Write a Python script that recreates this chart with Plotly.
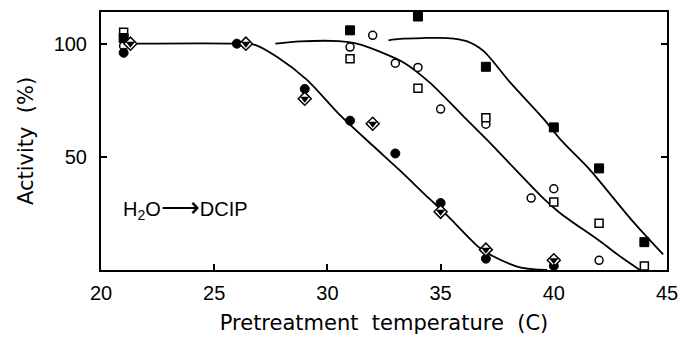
import plotly.graph_objects as go

# ---- data ----
fc_x = [21, 26, 29, 31, 33, 35, 37, 40]            # filled circles
fc_y = [96, 100, 80, 66, 51.5, 29.6, 5, 1.8]
dm_x = [21.3, 26.4, 29, 32, 35, 37, 40]             # half-filled diamonds
dm_y = [100, 100, 75.7, 64.6, 25.7, 9, 4.3]
oc_x = [21, 31, 32, 33, 34, 35, 37, 39, 40, 42]     # open circles
oc_y = [99, 98.5, 103.7, 91.4, 89.5, 71.1, 64.4, 31.8, 35.9, 4.3]
os_x = [21, 31, 34, 37, 40, 42, 44]                 # open squares
os_y = [105, 93.3, 80.3, 67.3, 30.1, 20.7, 1.8]
fs_x = [21, 31, 34, 37, 40, 42, 44]                 # filled squares
fs_y = [102.5, 105.9, 112, 89.8, 63, 44.9, 12.3]

# fitted curves
c1_x = [21.4, 26.0, 26.8, 27.8, 29.1, 30.5, 32.0, 33.2, 34.5, 35.3, 36.7, 37.3, 38.5, 39.7]
c1_y = [100, 100, 99.5, 94, 84, 69, 55, 44, 31.5, 24, 10, 6.2, 1.2, 0]
c2_x = [27.7, 28.8, 30.5, 31.3, 32.6, 33.4, 34.5, 36.0, 37.0, 38.0, 39.6, 40.3, 42.0, 43.0, 43.8]
c2_y = [100, 101, 101.1, 100, 95.3, 91.5, 83, 68, 58, 47.6, 31.1, 25, 13, 5.5, 0]
c3_x = [32.7, 33.2, 34.2, 35.3, 36.15, 36.9, 38.06, 39.53, 40.3, 41.5, 42.0, 43.5, 44.83]
c3_y = [101.5, 102.1, 102.5, 102.5, 101.1, 96.7, 83, 67, 57.6, 45.3, 39.5, 21.4, 6.9]

x_ticks = [20, 25, 30, 35, 40, 45]
y_ticks = [50, 100]

fig = go.Figure()
for cx, cy in [(c1_x, c1_y), (c2_x, c2_y), (c3_x, c3_y)]:
    fig.add_trace(go.Scatter(x=cx, y=cy, mode="lines",
                             line=dict(color="black", width=1.8, shape="spline", smoothing=0.8),
                             hoverinfo="skip"))

fig.add_trace(go.Scatter(x=oc_x, y=oc_y, mode="markers",
                         marker=dict(symbol="circle", size=8, color="white",
                                     line=dict(color="black", width=1.5))))
fig.add_trace(go.Scatter(x=os_x, y=os_y, mode="markers",
                         marker=dict(symbol="square", size=8, color="white",
                                     line=dict(color="black", width=1.5))))
fig.add_trace(go.Scatter(x=fs_x, y=fs_y, mode="markers",
                         marker=dict(symbol="square", size=9, color="black",
                                     line=dict(color="black", width=1))))
fig.add_trace(go.Scatter(x=fc_x, y=fc_y, mode="markers",
                         marker=dict(symbol="circle", size=9, color="black",
                                     line=dict(color="black", width=1))))
fig.add_trace(go.Scatter(x=dm_x, y=dm_y, mode="markers",
                         marker=dict(symbol="diamond", size=10, color="white",
                                     line=dict(color="black", width=1.5))))
fig.add_trace(go.Scatter(x=dm_x, y=dm_y, mode="markers",
                         marker=dict(symbol="triangle-down", size=8, color="black",
                                     line=dict(width=0))))

fig.add_annotation(x=20.9, y=27.6, xref="x", yref="y", xanchor="left", yanchor="middle",
                   text="H<sub>2</sub>O<span style='font-size:27px'>\u27F6</span>DCIP",
                   showarrow=False,
                   font=dict(family="Liberation Sans", size=20, color="black"))

axis_common = dict(showgrid=False, zeroline=False, showline=True, linecolor="black",
                   linewidth=2, ticks="inside", tickcolor="black", tickwidth=1.5,
                   ticklen=6,
                   tickfont=dict(family="Liberation Sans", size=20, color="black"))

fig.update_xaxes(range=[20, 45], tickvals=x_ticks, ticktext=[str(v) for v in x_ticks],
                 mirror=True, ticklabelstandoff=4,
                 title=dict(text="Pretreatment  temperature  (C)",
                            font=dict(family="DejaVu Sans", size=21, color="black"),
                            standoff=12),
                 **axis_common)
fig.update_yaxes(range=[0, 114], tickvals=y_ticks, ticktext=[str(v) for v in y_ticks],
                 mirror="ticks", ticklabelstandoff=8,
                 title=dict(text="Activity  (%)",
                            font=dict(family="DejaVu Sans", size=21, color="black"),
                            standoff=14),
                 **axis_common)

fig.update_layout(width=694, height=341, margin=dict(l=101, r=27, t=10, b=68),
                  paper_bgcolor="white", plot_bgcolor="white", showlegend=False)

fig.write_html("out.html")
